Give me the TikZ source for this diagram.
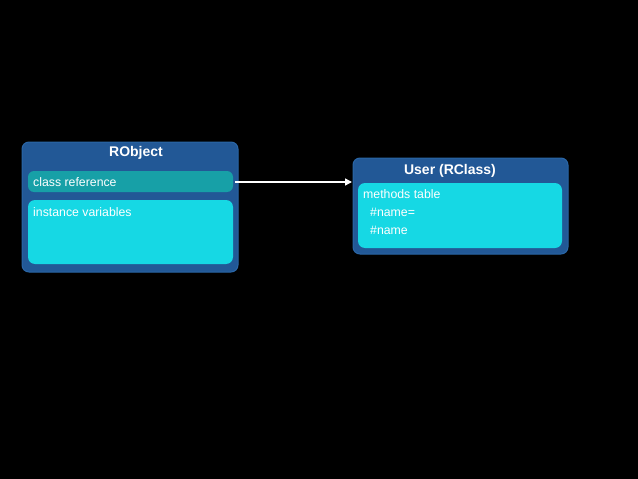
\documentclass[tikz,border=0pt]{standalone}
\usepackage{fontspec}
\setmainfont{Liberation Sans}
\usetikzlibrary{arrows.meta}
\definecolor{outerblue}{HTML}{225896}
\definecolor{outerline}{HTML}{2A66A6}
\definecolor{tealbar}{HTML}{17A0A7}
\definecolor{cyanbox}{HTML}{16D8E4}
\tikzset{
  outerbox/.style={fill=outerblue, draw=outerline, line width=1pt, rounded corners=7pt},
  tealbox/.style={fill=tealbar, rounded corners=6pt},
  cyanfill/.style={fill=cyanbox, rounded corners=7pt},
  titletext/.style={text=white, font=\fontsize{14}{16}\selectfont\bfseries, inner sep=0pt},
  itemtext/.style={text=white, font=\fontsize{12.3}{14}\selectfont, inner sep=0pt, anchor=west},
  link/.style={draw=white, line width=1.5pt, -{Triangle[length=7pt,width=7pt]}}
}
\begin{document}
\begin{tikzpicture}[x=1pt,y=-1pt]
\useasboundingbox[fill=black] (0,0) rectangle (638,479);
% RObject
\draw[outerbox] (22,142) rectangle (238,272);
\fill[tealbox] (28,171) rectangle (233,192);
\fill[cyanfill] (28,200) rectangle (233,264);
\node[titletext] (robj) at (136,152.5) {RObject};
\node[itemtext] (cref) at (33,182) {class reference};
\node[itemtext] (ivars) at (33,212.5) {instance variables};
\coordinate (arrstart) at (235,182);
% User (RClass)
\draw[outerbox] (353,158) rectangle (568,254);
\fill[cyanfill] (358,183) rectangle (562,248);
\node[titletext] (ucls) at (450,171) {User (RClass)};
\node[itemtext] (mtab) at (363,194.5) {methods table};
\node[itemtext] (m1) at (370,212.5) {\#name=};
\node[itemtext] (m2) at (370,230.5) {\#name};
\coordinate (arrend) at (352,182);
\draw[link] (arrstart) -- (arrend);
\end{tikzpicture}
\end{document}
